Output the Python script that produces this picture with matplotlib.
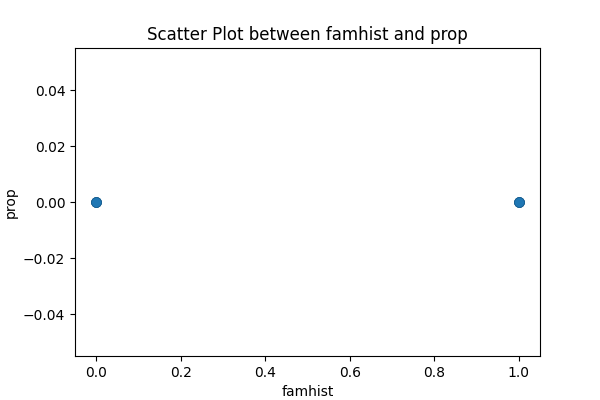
import matplotlib
matplotlib.use("Agg")
import matplotlib.pyplot as plt

famhist = [0, 1, 0, 1, 1, 0, 0, 1]
prop = [0, 0, 0, 0, 0, 0, 0, 0]

plt.figure(figsize=(6, 4), dpi=100)
plt.scatter(famhist, prop, s=50, color='#1f77b4', edgecolor='#1a5f91', linewidth=0.5)
plt.title('Scatter Plot between famhist and prop')
plt.xlabel('famhist')
plt.ylabel('prop')
plt.savefig('out.png', dpi=100)
